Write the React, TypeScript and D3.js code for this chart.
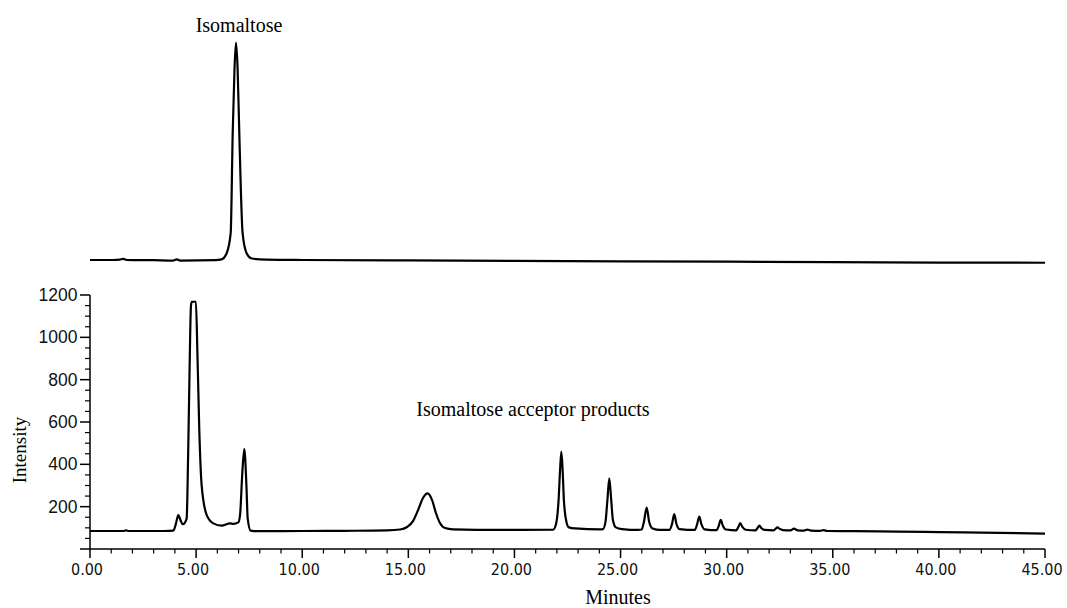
import React from "react";
import * as d3 from "d3";

// Chromatogram traces: [retention time (min), intensity]
const standardTrace: [number, number][] = [
  [0, 85], [1.1, 85], [1.4, 87], [1.57, 90], [1.75, 85], [3.0, 84], [3.9, 82],
  [4.09, 88], [4.25, 82], [5.9, 84], [6.2, 88], [6.44, 117], [6.63, 213],
  [6.724, 685], [6.81, 990], [6.88, 1112], [6.955, 990], [7.035, 685],
  [7.19, 213], [7.38, 117], [7.62, 92], [8.3, 87], [10, 85], [15, 83],
  [20, 81], [25, 79], [30, 77], [35, 75], [40, 73], [45, 72],
];

const reactionTrace: [number, number][] = [
  [0, 85], [1.55, 85], [1.7, 88], [1.85, 85], [3.5, 85], [3.93, 87],
  [4.05, 120], [4.16, 160], [4.27, 135], [4.37, 117], [4.47, 125],
  [4.555, 145], [4.62, 420], [4.68, 775], [4.76, 1153], [4.8, 1168],
  [4.99, 1168], [5.06, 932], [5.15, 562], [5.26, 302], [5.5, 160],
  [5.81, 121], [6.2, 110], [6.6, 121], [6.75, 119], [6.99, 126],
  [7.07, 160], [7.18, 365], [7.27, 472], [7.37, 302], [7.43, 145],
  [7.57, 87], [7.9, 84], [10, 85], [12, 86], [14, 88], [14.61, 92],
  [14.94, 104], [15.22, 132], [15.46, 184], [15.69, 241], [15.91, 263],
  [16.12, 231], [16.3, 170], [16.49, 123], [16.73, 99], [17.1, 93],
  [19.3, 90], [21.82, 91], [21.96, 118], [22.08, 231], [22.15, 373],
  [22.21, 460], [22.27, 373], [22.33, 231], [22.45, 128], [22.57, 102],
  [22.85, 97], [24.03, 93], [24.17, 94], [24.29, 128], [24.38, 231],
  [24.47, 334], [24.56, 231], [24.64, 137], [24.78, 102], [25.07, 94],
  [25.82, 90], [25.99, 92], [26.1, 128], [26.23, 195], [26.35, 128],
  [26.51, 97], [26.86, 90], [27.3, 90], [27.43, 120], [27.53, 165],
  [27.63, 120], [27.78, 94], [28.5, 90], [28.61, 118], [28.71, 153],
  [28.81, 118], [28.96, 93], [29.52, 89], [29.63, 110], [29.72, 138],
  [29.82, 110], [29.97, 92], [30.45, 88], [30.55, 104], [30.64, 122],
  [30.74, 104], [30.9, 91], [31.35, 88], [31.45, 98], [31.54, 110],
  [31.64, 98], [31.8, 90], [32.2, 88], [32.3, 95], [32.39, 102],
  [32.5, 95], [32.65, 89], [33.0, 88], [33.17, 96], [33.35, 88],
  [33.65, 87], [33.8, 92], [33.97, 87], [34.4, 86], [34.56, 89],
  [34.75, 85], [36, 84], [38, 82], [40, 80], [42, 77], [45, 73],
];

const xMajorTicks = [0, 5, 10, 15, 20, 25, 30, 35, 40, 45];
const yMajorTicks = [0, 200, 400, 600, 800, 1000, 1200];
const yTickLabels = ["", "200", "400", "600", "800", "1000", "1200"];

const W = 1067;
const H = 608;

export default function App() {
  const x = d3.scaleLinear().domain([0, 45]).range([90, 1045]);
  const yBottom = d3.scaleLinear().domain([0, 1200]).range([549, 295]);
  const yTop = d3.scaleLinear().domain([0, 1200]).range([278, 24]);

  const lineBottom = d3
    .line<[number, number]>()
    .x((d) => x(d[0]))
    .y((d) => yBottom(d[1]))
    .curve(d3.curveMonotoneX);
  const lineTop = d3
    .line<[number, number]>()
    .x((d) => x(d[0]))
    .y((d) => yTop(d[1]))
    .curve(d3.curveMonotoneX);

  const xMinor = d3.range(0, 46, 1).filter((v) => v % 5 !== 0);
  const yMinor = d3.range(0, 1201, 50).filter((v) => v % 200 !== 0);
  const fmt = d3.format(".2f");

  const serif = "'Liberation Serif', 'Times New Roman', serif";
  const sansY = "'Liberation Sans', Arial, sans-serif";
  const sansX = "'DejaVu Sans Condensed', 'DejaVu Sans', sans-serif";

  return (
    <svg
      width={W}
      height={H}
      viewBox={`0 0 ${W} ${H}`}
      style={{ position: "absolute", left: 0, top: 0, background: "#fff" }}
    >
      <rect width={W} height={H} fill="#fff" />

      {/* upper trace: isomaltose standard */}
      <path d={lineTop(standardTrace) || ""} fill="none" stroke="#000" strokeWidth={2.2} strokeLinejoin="round" />
      <text x={239} y={31.5} textAnchor="middle" fontFamily={serif} fontSize={20} fill="#000">
        Isomaltose
      </text>

      {/* lower trace: reaction products */}
      <path d={lineBottom(reactionTrace) || ""} fill="none" stroke="#000" strokeWidth={2.2} strokeLinejoin="round" />
      <text x={533} y={416} textAnchor="middle" fontFamily={serif} fontSize={20} fill="#000">
        Isomaltose acceptor products
      </text>

      {/* y axis */}
      <line x1={90} x2={90} y1={yBottom(1200)} y2={yBottom(0)} stroke="#000" strokeWidth={1.5} />
      {yMajorTicks.map((v, i) => (
        <g key={`ym${v}`}>
          <line x1={80} x2={90} y1={yBottom(v)} y2={yBottom(v)} stroke="#000" strokeWidth={1.5} />
          <text
            x={77.5}
            y={yBottom(v)}
            dy="0.35em"
            textAnchor="end"
            fontFamily={sansY}
            fontSize={17.5}
            fill="#111"
          >
            {yTickLabels[i]}
          </text>
        </g>
      ))}
      {yMinor.map((v) => (
        <line key={`yn${v}`} x1={85} x2={90} y1={yBottom(v)} y2={yBottom(v)} stroke="#000" strokeWidth={1.2} />
      ))}
      <text
        transform="translate(26,450) rotate(-90)"
        textAnchor="middle"
        fontFamily={serif}
        fontSize={19}
        fill="#000"
      >
        Intensity
      </text>

      {/* x axis */}
      <line x1={x(0)} x2={x(45)} y1={549} y2={549} stroke="#000" strokeWidth={1.5} />
      {xMajorTicks.map((v) => (
        <g key={`xm${v}`}>
          <line x1={x(v)} x2={x(v)} y1={549} y2={558} stroke="#000" strokeWidth={1.5} />
          <text
            x={x(v) - 3}
            y={575}
            textAnchor="middle"
            fontFamily={sansX}
            fontStretch="condensed"
            fontSize={16}
            fill="#111"
          >
            {fmt(v)}
          </text>
        </g>
      ))}
      {xMinor.map((v) => (
        <line key={`xn${v}`} x1={x(v)} x2={x(v)} y1={549} y2={553.5} stroke="#000" strokeWidth={1.2} />
      ))}
      <text x={618} y={604} textAnchor="middle" fontFamily={serif} fontSize={20} fill="#000">
        Minutes
      </text>
    </svg>
  );
}
